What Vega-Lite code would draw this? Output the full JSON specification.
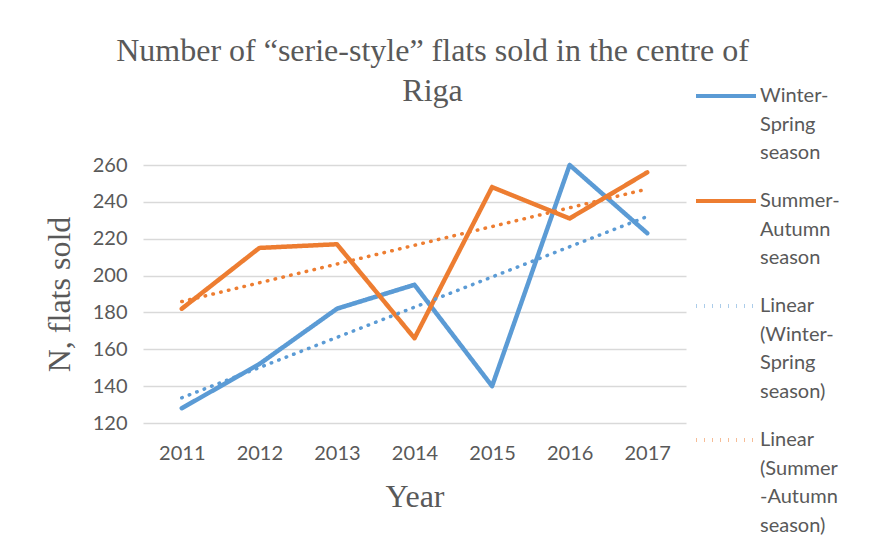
{
  "$schema": "https://vega.github.io/schema/vega-lite/v6.json",
  "width": 543,
  "height": 258,
  "autosize": {"type": "none"},
  "padding": {"left": 143, "top": 165, "right": 202, "bottom": 118},
  "background": "white",
  "title": {
    "text": ["Number of “serie-style” flats sold in the centre of", "Riga"],
    "font": "Liberation Serif",
    "fontSize": 32,
    "fontWeight": "normal",
    "color": "#595959",
    "lineHeight": 40,
    "anchor": "middle",
    "baseline": "bottom",
    "dx": 18,
    "offset": -76
  },
  "data": {
    "values": [
      {"year": 2011, "value": 128, "name": "Winter-Spring season", "trend": "Linear (Winter-Spring season)"},
      {"year": 2012, "value": 152, "name": "Winter-Spring season", "trend": "Linear (Winter-Spring season)"},
      {"year": 2013, "value": 182, "name": "Winter-Spring season", "trend": "Linear (Winter-Spring season)"},
      {"year": 2014, "value": 195, "name": "Winter-Spring season", "trend": "Linear (Winter-Spring season)"},
      {"year": 2015, "value": 140, "name": "Winter-Spring season", "trend": "Linear (Winter-Spring season)"},
      {"year": 2016, "value": 260, "name": "Winter-Spring season", "trend": "Linear (Winter-Spring season)"},
      {"year": 2017, "value": 223, "name": "Winter-Spring season", "trend": "Linear (Winter-Spring season)"},
      {"year": 2011, "value": 182, "name": "Summer-Autumn season", "trend": "Linear (Summer-Autumn season)"},
      {"year": 2012, "value": 215, "name": "Summer-Autumn season", "trend": "Linear (Summer-Autumn season)"},
      {"year": 2013, "value": 217, "name": "Summer-Autumn season", "trend": "Linear (Summer-Autumn season)"},
      {"year": 2014, "value": 166, "name": "Summer-Autumn season", "trend": "Linear (Summer-Autumn season)"},
      {"year": 2015, "value": 248, "name": "Summer-Autumn season", "trend": "Linear (Summer-Autumn season)"},
      {"year": 2016, "value": 231, "name": "Summer-Autumn season", "trend": "Linear (Summer-Autumn season)"},
      {"year": 2017, "value": 256, "name": "Summer-Autumn season", "trend": "Linear (Summer-Autumn season)"}
    ]
  },
  "encoding": {
    "x": {
      "field": "year",
      "type": "quantitative",
      "scale": {"domain": [2010.5, 2017.5], "nice": false, "zero": false},
      "axis": {
        "values": [2011, 2012, 2013, 2014, 2015, 2016, 2017],
        "format": "d",
        "grid": false,
        "ticks": false,
        "domain": false,
        "labelFont": "Lato",
        "labelFontSize": 20,
        "labelColor": "#595959",
        "labelPadding": 20,
        "title": "Year",
        "titleFont": "Liberation Serif",
        "titleFontSize": 32,
        "titleFontWeight": "normal",
        "titleColor": "#595959",
        "titlePadding": 18
      }
    },
    "y": {
      "field": "value",
      "type": "quantitative",
      "scale": {"domain": [120, 260], "nice": false, "zero": false},
      "axis": {
        "values": [120, 140, 160, 180, 200, 220, 240, 260],
        "grid": true,
        "gridColor": "#d9d9d9",
        "gridWidth": 1.5,
        "ticks": false,
        "domain": false,
        "labelFont": "Lato",
        "labelFontSize": 20,
        "labelColor": "#595959",
        "labelPadding": 16,
        "title": "N, flats sold",
        "titleFont": "Liberation Serif",
        "titleFontSize": 32,
        "titleFontWeight": "normal",
        "titleColor": "#595959",
        "titlePadding": 16
      }
    }
  },
  "layer": [
    {
      "mark": {"type": "line", "strokeWidth": 4.5, "strokeCap": "round", "strokeJoin": "round"},
      "encoding": {
        "color": {
          "field": "name",
          "type": "nominal",
          "scale": {
            "domain": ["Winter-Spring season", "Summer-Autumn season", "Linear (Winter-Spring season)", "Linear (Summer-Autumn season)"],
            "range": ["#5b9bd5", "#ed7d31", "#5b9bd5", "#ed7d31"]
          },
          "legend": {
            "title": null,
            "orient": "none",
            "legendX": 551,
            "legendY": -101,
            "symbolType": "stroke",
            "symbolSize": 3600,
            "symbolStrokeWidth": 4,
            "labelFont": "Lato",
            "labelFontSize": 20,
            "labelColor": "#595959",
            "labelLimit": 300,
            "labelOffset": 2,
            "rowPadding": 6,
            "labelExpr": "datum.label == 'Winter-Spring season' ? ['Winter-','Spring','season'] : datum.label == 'Summer-Autumn season' ? ['Summer-','Autumn','season'] : datum.label == 'Linear (Winter-Spring season)' ? ['Linear','(Winter-','Spring','season)'] : ['Linear','(Summer','-Autumn','season)']"
          }
        },
        "strokeDash": {
          "field": "name",
          "type": "nominal",
          "scale": {
            "domain": ["Winter-Spring season", "Summer-Autumn season", "Linear (Winter-Spring season)", "Linear (Summer-Autumn season)"],
            "range": [[1, 0], [1, 0], [0.5, 7.5], [0.5, 7.5]]
          },
          "legend": {
            "title": null,
            "orient": "none",
            "legendX": 551,
            "legendY": -101,
            "symbolType": "stroke",
            "symbolSize": 3600,
            "symbolStrokeWidth": 4,
            "labelFont": "Lato",
            "labelFontSize": 20,
            "labelColor": "#595959",
            "labelLimit": 300,
            "labelOffset": 2,
            "rowPadding": 6,
            "labelExpr": "datum.label == 'Winter-Spring season' ? ['Winter-','Spring','season'] : datum.label == 'Summer-Autumn season' ? ['Summer-','Autumn','season'] : datum.label == 'Linear (Winter-Spring season)' ? ['Linear','(Winter-','Spring','season)'] : ['Linear','(Summer','-Autumn','season)']"
          }
        }
      }
    },
    {
      "transform": [
        {"regression": "value", "on": "year", "groupby": ["trend"]}
      ],
      "mark": {"type": "line", "strokeWidth": 3.5, "strokeCap": "round"},
      "encoding": {
        "color": {"field": "trend", "type": "nominal"},
        "strokeDash": {"field": "trend", "type": "nominal"}
      }
    }
  ],
  "config": {
    "view": {"stroke": null},
    "style": {"guide-label": {"lineHeight": 28.5}}
  }
}
